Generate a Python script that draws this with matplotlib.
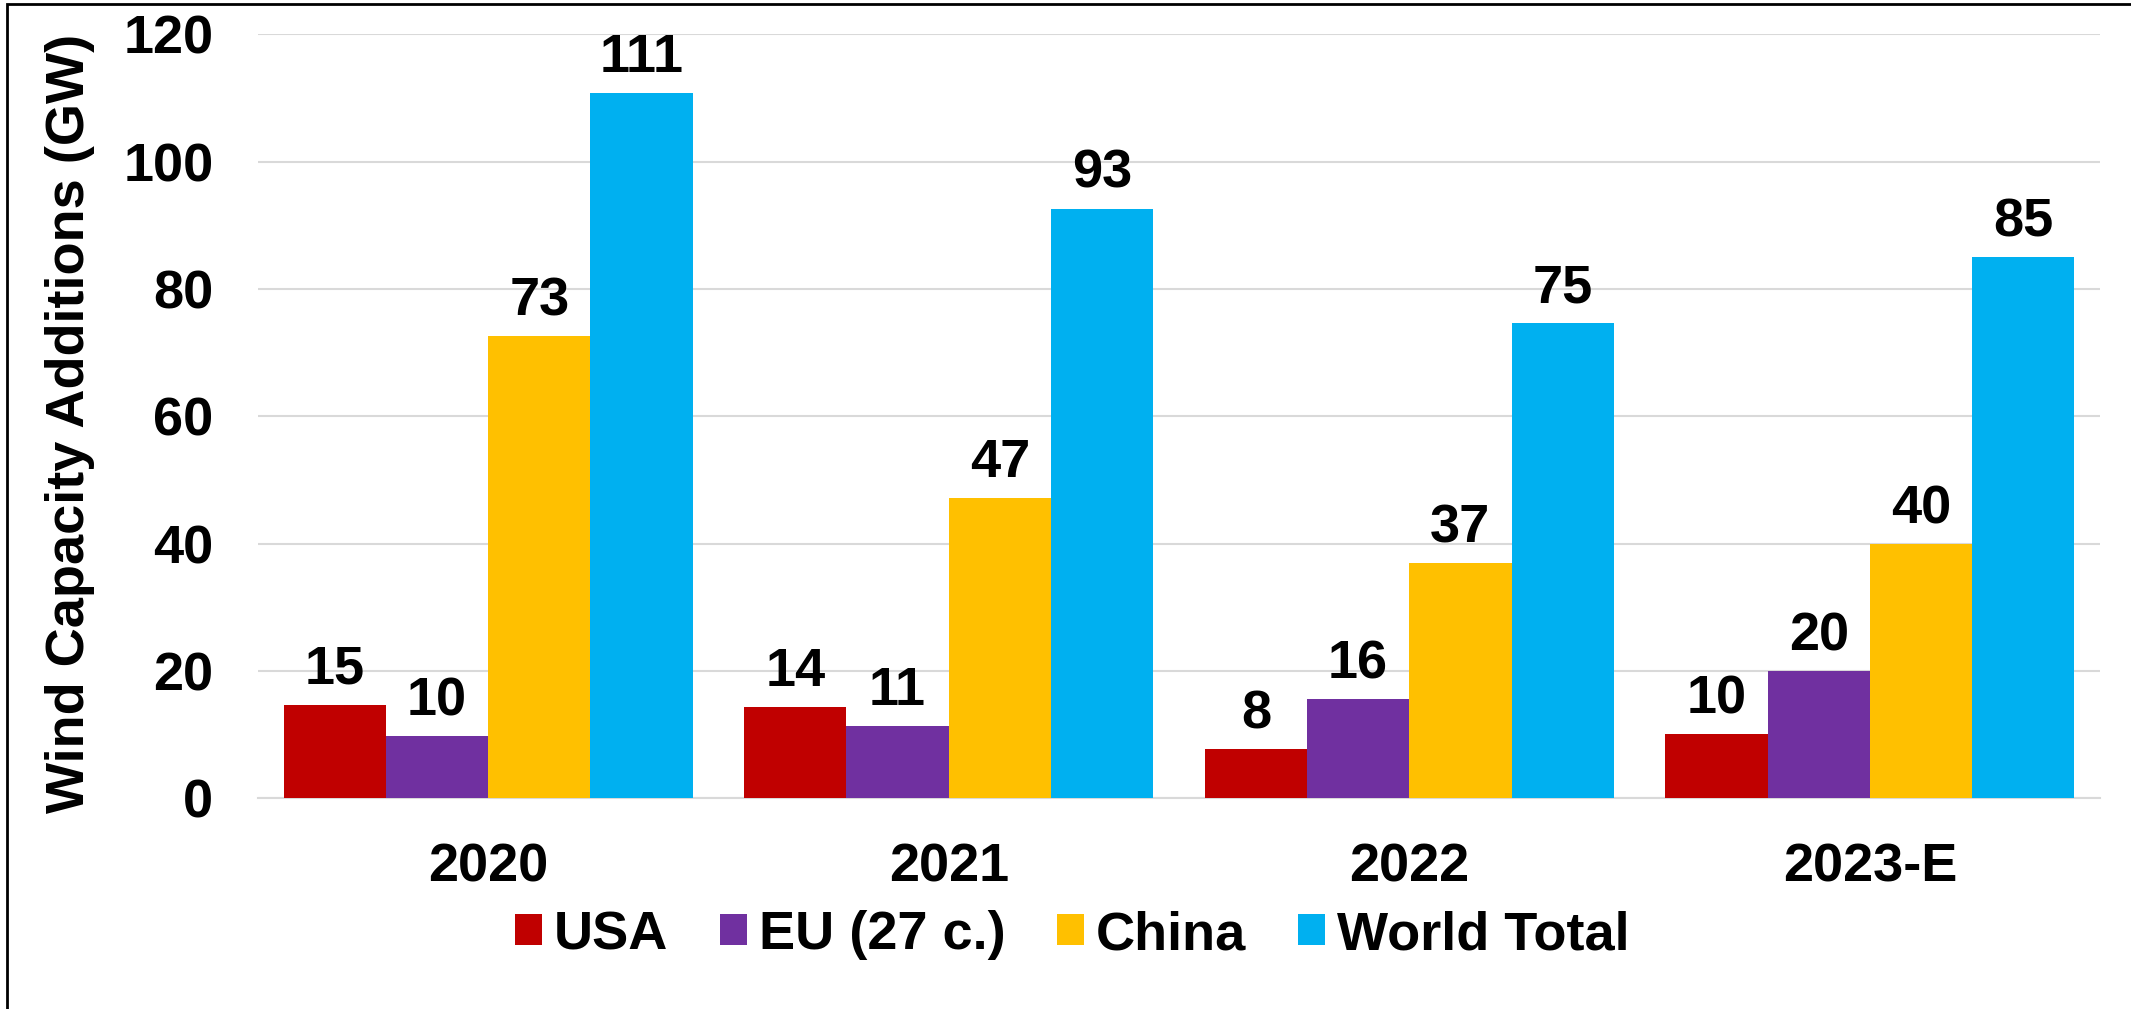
import matplotlib.pyplot as plt
from matplotlib.patches import Rectangle
import numpy as np

# Data (GW)
years = ["2020", "2021", "2022", "2023-E"]
series = ["USA", "EU (27 c.)", "China", "World Total"]
usa = [14.7, 14.3, 7.7, 10.0]
eu = [9.8, 11.3, 15.6, 19.9]
china = [72.6, 47.2, 36.9, 39.9]
world = [110.8, 92.6, 74.6, 85.0]
colors = ["#C00000", "#7030A0", "#FFC000", "#00B0F0"]

plt.rcParams["font.family"] = ["Liberation Sans", "DejaVu Sans"]
plt.rcParams["font.weight"] = "bold"
fs = 39

fig = plt.figure(figsize=(21.31, 10.09), dpi=100)
ax = fig.add_axes([0.121, 0.209, 0.8645, 0.757])

x = np.arange(len(years))
w = 0.222
for i, (vals, name) in enumerate(zip([usa, eu, china, world], series)):
    bars = ax.bar(x + (i - 1.5) * w, vals, w, color=colors[i], label=name, zorder=3)
    ax.bar_label(bars, fmt="%.0f", padding=7, fontsize=fs, fontweight="bold")

ax.set_xlim(-0.5, 3.5)
ax.set_ylim(0, 120)
ax.set_yticks(range(0, 121, 20))
ax.set_xticks(x)
ax.set_xticklabels(years)
ax.tick_params(axis="both", length=0, labelsize=fs)
ax.tick_params(axis="y", pad=32)
ax.tick_params(axis="x", pad=32)
for lab in ax.get_xticklabels() + ax.get_yticklabels():
    lab.set_fontweight("bold")

ax.grid(axis="y", color="#D9D9D9", linewidth=1.5, zorder=0)
for s in ["top", "right", "left"]:
    ax.spines[s].set_visible(False)
ax.spines["bottom"].set_color("#D9D9D9")
ax.spines["bottom"].set_linewidth(1.5)

ax.set_ylabel("Wind Capacity Additions (GW)", fontsize=fs, fontweight="bold", va="center")
ax.yaxis.set_label_coords(-0.102, 0.49)

fig.legend(loc="center", bbox_to_anchor=(1072 / 2131, 1 - 935 / 1009), ncol=4,
           frameon=False, handlelength=0.5, handleheight=0.5,
           handletextpad=0.22, columnspacing=0.95, prop={"weight": "bold", "size": fs})

# outer frame
fig.patches.append(Rectangle((7 / 2131, -0.1), 1.2, 1 - 4 / 1009 + 0.1, transform=fig.transFigure,
                             fill=False, edgecolor="black", linewidth=2))

fig.savefig("out.png", dpi=100)
